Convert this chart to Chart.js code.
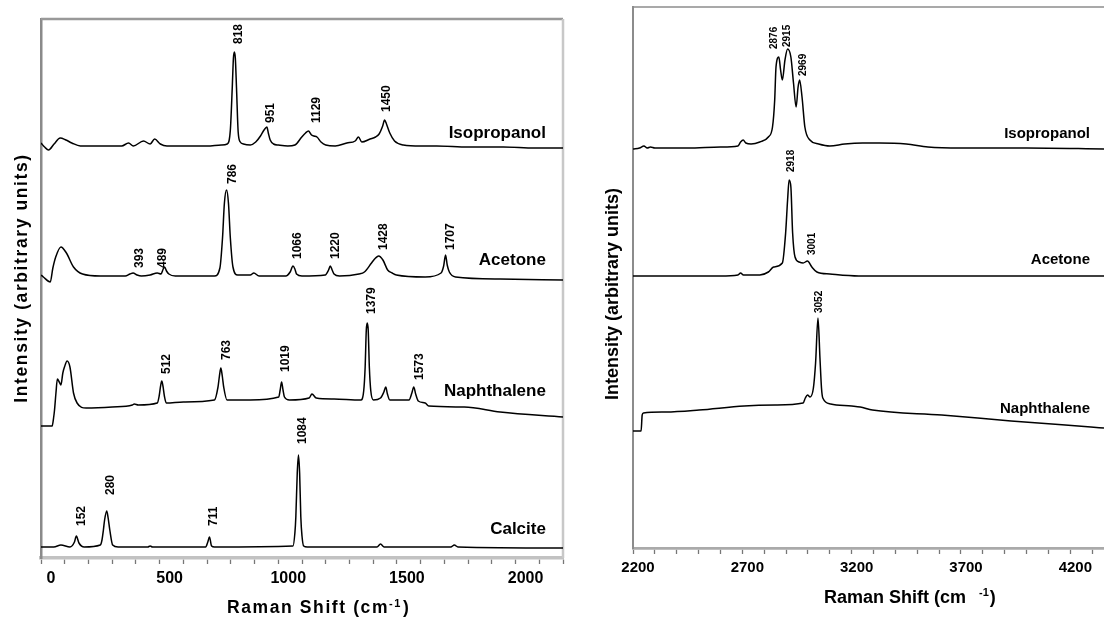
<!DOCTYPE html>
<html>
<head>
<meta charset="utf-8">
<script src="https://cdn.jsdelivr.net/npm/chart.js@4.4.1/dist/chart.umd.min.js"></script>
<style>
  html, body { margin: 0; padding: 0; background: #fff; }
  #wrap { position: relative; width: 1104px; height: 621px; overflow: hidden; }
  #low { position: absolute; left: 0; top: 0; }
  #high { position: absolute; left: 570px; top: 0; }
</style>
</head>
<body>
<div id="wrap">
  <canvas id="low" width="570" height="621"></canvas>
  <canvas id="high" width="534" height="621"></canvas>
</div>
<script>
// [Raman shift cm-1, stacked intensity (arbitrary units)]
const isopropanolLow = [[0,415],[15,411],[32,408],[55,414],[81,420],[105,418],[130,415],[166,412],[250,412],[340,412],[369,415],[389,412],[432,417],[460,414],[479,419],[503,414],[531,412],[620,412],[700,412],[760,413],[785,414],[798,428],[806,470],[811,500],[815,506],[819,500],[824,470],[831,426],[840,416],[853,414],[882,413],[905,416],[925,422],[940,428],[952,431],[958,425],[966,418],[980,414],[1000,413],[1040,412],[1070,413],[1099,421],[1115,425],[1127,427],[1140,423],[1150,422],[1163,421],[1180,416],[1200,413],[1240,412],[1289,415],[1324,417],[1338,421],[1352,416],[1387,419],[1410,421],[1425,424],[1440,432],[1448,438],[1456,434],[1470,425],[1490,417],[1527,413],[1600,412],[1668,412],[1800,411],[1949,411],[2080,410],[2200,410]]
const acetoneLow = [[0,283],[10,281],[39,276],[50,290],[62,301],[84,311],[107,305],[137,291],[175,284],[250,282],[355,282],[375,284],[388,285],[405,283],[423,282],[460,283],[490,285],[506,284],[515,289],[521,291],[529,287],[539,284],[566,282],[731,282],[754,290],[765,320],[773,355],[782,368],[790,355],[798,320],[809,291],[829,283],[882,283],[897,285],[919,282],[1032,282],[1050,286],[1062,292],[1070,289],[1077,284],[1100,282],[1198,283],[1212,288],[1219,292],[1227,288],[1235,284],[1258,282],[1340,284],[1363,286],[1393,295],[1410,300],[1423,302],[1441,298],[1461,288],[1480,285],[1498,283],[1619,281],[1686,285],[1697,292],[1705,303],[1712,293],[1721,286],[1747,281],[1935,279],[2200,278]]
const naphthaleneLow = [[0,132],[47,132],[53,140],[57,148],[63,165],[69,179],[77,176],[84,173],[92,185],[99,191],[110,197],[122,191],[137,165],[152,155],[190,150],[300,151],[385,153],[393,154],[410,153],[490,155],[498,162],[504,172],[509,177],[514,172],[520,162],[528,155],[600,156],[731,158],[746,171],[752,182],[758,190],[764,182],[770,171],[784,158],[882,158],[1002,161],[1008,168],[1014,176],[1020,168],[1026,161],[1047,158],[1130,160],[1142,164],[1160,160],[1235,159],[1348,158],[1360,167],[1366,190],[1371,228],[1375,235],[1379,228],[1384,190],[1390,167],[1401,158],[1431,160],[1445,166],[1453,171],[1460,164],[1470,158],[1551,158],[1563,165],[1571,171],[1579,164],[1590,157],[1619,155],[1634,152],[1784,151],[1935,146],[2200,141]]
const calciteLow = [[0,11],[54,11],[84,13],[122,11],[141,16],[149,22],[160,15],[182,11],[250,13],[257,18],[263,28],[268,38],[277,47],[283,40],[290,28],[302,13],[325,11],[450,11],[460,12],[470,11],[694,11],[703,16],[710,21],[719,12],[731,11],[1062,12],[1070,25],[1074,41],[1080,85],[1085,103],[1090,85],[1095,41],[1100,22],[1107,12],[1122,11],[1416,11],[1431,14],[1446,11],[1727,11],[1742,13],[1757,11],[2200,10]]

const isopropanolHigh = [[2200,399],[2230,400],[2250,402],[2265,400],[2280,401],[2300,400],[2450,400],[2600,401],[2680,402],[2692,406],[2704,408],[2716,405],[2740,404],[2780,406],[2819,411],[2838,421],[2848,448],[2854,481],[2867,491],[2875,478],[2883,468],[2895,488],[2907,499],[2922,491],[2934,465],[2946,441],[2955,461],[2962,468],[2973,451],[2986,421],[3009,408],[3049,404],[3100,402],[3168,404],[3250,405],[3327,405],[3450,404],[3549,401],[3700,400],[4000,400],[4354,399]]
const acetoneHigh = [[2200,272],[2400,272],[2600,272],[2680,273],[2692,275],[2705,273],[2780,273],[2819,276],[2843,281],[2883,285],[2898,315],[2907,348],[2914,368],[2922,361],[2930,315],[2941,291],[2960,286],[2978,285],[2998,287],[3018,281],[3041,276],[3100,274],[3232,272],[3500,272],[4354,272]]
const naphthaleneHigh = [[2200,117],[2237,117],[2242,133],[2248,135],[2350,136],[2502,138],[2708,142],[2850,143],[2978,145],[2988,150],[2998,153],[3010,151],[3025,160],[3035,185],[3046,230],[3055,190],[3062,160],[3068,150],[3104,144],[3200,142],[3239,141],[3295,138],[3612,133],[3929,127],[4294,121],[4354,120]]

// peak labels: [text, shift, level]
const peaksLow = [['818',835,514],['951',970,435],['1129',1160,435],['1450',1459,446],
  ['393',414,290],['489',511,290],['786',806,374],['1066',1080,299],['1220',1240,299],['1428',1446,308],['1707',1728,308],
  ['512',528,184],['763',781,198],['1019',1033,186],['1379',1395,244],['1573',1594,178],
  ['152',170,32],['280',292,63],['711',726,32],['1084',1101,114]]
const peaksHigh = [['2876',2848,499],['2915',2907,501],['2969',2978,472],['2918',2922,376],['3001',3018,293],['3052',3054,235]]

const namesLow = [['Isopropanol',2128,425],['Acetone',2128,298],['Naphthalene',2128,167],['Calcite',2128,29]]
const namesHigh = [['Isopropanol',4290,414],['Acetone',4290,288],['Naphthalene',4290,139]]

const FONT = '"Liberation Sans", Arial, sans-serif'

const overlay = {
    id: 'overlay',
    beforeDatasetsDraw(chart, args, o) {
        const ctx = chart.ctx, a = chart.chartArea
        ctx.save()
        ctx.strokeStyle = o.topColor
        ctx.lineWidth = o.topWidth
        ctx.beginPath(); ctx.moveTo(a.left, a.top); ctx.lineTo(a.right, a.top); ctx.stroke()
        if (o.rightWidth) {
            ctx.strokeStyle = o.rightColor
            ctx.lineWidth = o.rightWidth
            ctx.beginPath(); ctx.moveTo(a.right, a.top); ctx.lineTo(a.right, a.bottom); ctx.stroke()
        }
        ctx.restore()
    },
    afterDatasetsDraw(chart, args, o) {
        const ctx = chart.ctx, xs = chart.scales.x, ys = chart.scales.y
        ctx.save()
        ctx.fillStyle = '#000'
        ctx.font = 'bold ' + o.peakSize + 'px ' + FONT
        ctx.textAlign = 'left'
        ctx.textBaseline = 'middle'
        o.peaks.forEach(([t, x, y]) => {
            ctx.save()
            ctx.translate(xs.getPixelForValue(x), ys.getPixelForValue(y))
            ctx.rotate(-Math.PI / 2)
            ctx.fillText(t, 0, 0)
            ctx.restore()
        })
        ctx.font = 'bold ' + o.nameSize + 'px ' + FONT
        ctx.textAlign = 'right'
        o.names.forEach(([t, x, y]) => ctx.fillText(t, xs.getPixelForValue(x), ys.getPixelForValue(y)))

        // axis titles
        const yt = o.yTitle
        ctx.font = 'bold ' + yt.size + 'px ' + FONT
        ctx.letterSpacing = yt.spacing + 'px'
        ctx.textAlign = 'center'
        ctx.save()
        ctx.translate(yt.x, yt.y)
        ctx.rotate(-Math.PI / 2)
        ctx.fillText(yt.text, 0, 0)
        ctx.restore()

        const xt = o.xTitle
        ctx.textAlign = 'left'
        ctx.textBaseline = 'alphabetic'
        ctx.letterSpacing = xt.spacing + 'px'
        ctx.font = 'bold ' + xt.size + 'px ' + FONT
        let cx = xt.x
        ctx.fillText(xt.text, cx, xt.y)
        cx += ctx.measureText(xt.text).width + xt.gap
        ctx.font = 'bold ' + xt.supSize + 'px ' + FONT
        ctx.fillText('-1', cx, xt.y - xt.supRise)
        cx += ctx.measureText('-1').width + 1
        ctx.font = 'bold ' + xt.size + 'px ' + FONT
        ctx.fillText(')', cx, xt.y)
        ctx.restore()
    }
}

function series(points) {
    return {
        data: points.map(p => ({ x: p[0], y: p[1] })),
        borderColor: '#000',
        borderWidth: 1.5,
        pointRadius: 0,
        tension: 0.4,
        cubicInterpolationMode: 'monotone',
        fill: false
    }
}

function drawPanel(id, p) {
    new Chart(document.getElementById(id), {
        type: 'line',
        data: { datasets: p.sets.map(series) },
        options: {
            responsive: false,
            animation: false,
            events: [],
            layout: { padding: { top: p.top, right: p.right, left: 0, bottom: 0 } },
            scales: {
                x: {
                    type: 'linear',
                    min: p.min,
                    max: p.max,
                    afterFit: s => { s.height = p.xHeight },
                    border: { color: p.axisColor, width: p.axisWidth },
                    grid: { drawOnChartArea: false, drawTicks: true, tickLength: 6, tickColor: '#777', tickWidth: 1.3 },
                    ticks: {
                        stepSize: 100,
                        autoSkip: false,
                        maxRotation: 0,
                        includeBounds: false,
                        padding: p.tickPad,
                        labelOffset: p.labelOffset,
                        color: '#000',
                        font: { family: FONT, size: p.tickSize, weight: 'bold' },
                        callback: v => (v - p.min) % 500 === 0 ? String(v) : ''
                    }
                },
                y: {
                    min: 0,
                    max: p.yMax,
                    afterFit: s => { s.width = p.yWidth },
                    border: { color: p.leftColor, width: p.leftWidth },
                    grid: { display: true, drawOnChartArea: false, drawTicks: false },
                    ticks: { display: false }
                }
            },
            plugins: {
                legend: { display: false },
                tooltip: { enabled: false },
                overlay: p.overlay
            }
        },
        plugins: [overlay]
    })
}

drawPanel('low', {
    sets: [isopropanolLow, acetoneLow, naphthaleneLow, calciteLow],
    min: 0, max: 2200, yMax: 539,
    top: 19, right: 7, xHeight: 63, yWidth: 41,
    axisColor: '#c2c2c2', axisWidth: 3.5, leftColor: '#8a8a8a', leftWidth: 2.5,
    tickPad: 5, labelOffset: 10, tickSize: 16,
    overlay: {
        topColor: '#999', topWidth: 2.5, rightColor: '#c8c8c8', rightWidth: 2.5,
        peaks: peaksLow, peakSize: 12, names: namesLow, nameSize: 17,
        yTitle: { text: 'Intensity (arbitrary units)', x: 22, y: 278, size: 17.5, spacing: 1.6 },
        xTitle: { text: 'Raman Shift (cm', x: 227, y: 613, size: 17.5, spacing: 1.6, gap: 0, supSize: 11, supRise: 6 }
    }
})

drawPanel('high', {
    sets: [isopropanolHigh, acetoneHigh, naphthaleneHigh],
    min: 2200, max: 4354, yMax: 541,
    top: 7, right: 0, xHeight: 73, yWidth: 63,
    axisColor: '#aaa', axisWidth: 2.7, leftColor: '#8c8c8c', leftWidth: 2,
    tickPad: 5, labelOffset: 5, tickSize: 15,
    overlay: {
        topColor: '#8c8c8c', topWidth: 1.6, rightWidth: 0,
        peaks: peaksHigh, peakSize: 10, names: namesHigh, nameSize: 15,
        yTitle: { text: 'Intensity (arbitrary units)', x: 43, y: 294, size: 18, spacing: 0 },
        xTitle: { text: 'Raman Shift (cm', x: 254, y: 603, size: 18, spacing: 0, gap: 13, supSize: 11, supRise: 7 }
    }
})
</script>
</body>
</html>
